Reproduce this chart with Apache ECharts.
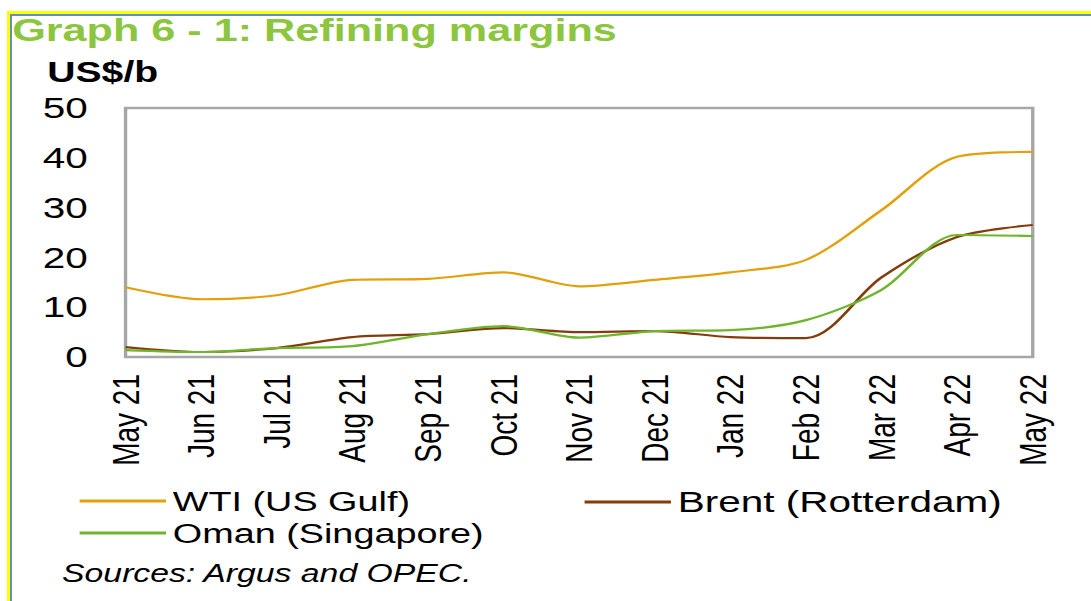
<!DOCTYPE html>
<html>
<head>
<meta charset="utf-8">
<script src="https://cdn.jsdelivr.net/npm/echarts@6/dist/echarts.min.js"></script>
<style>
  html, body { margin: 0; padding: 0; background: #fff; }
  #page { position: relative; width: 1091px; height: 601px; overflow: hidden; }
  /* frame of the source document */
  #frame { position: absolute; left: 7px; top: 11px; right: -10px; bottom: -10px;
           border-left: 3px solid #ffff00; border-top: 3px solid #ffff00; }
  #frame div { position: absolute; left: 0; top: 0; right: 0; bottom: 0;
           border-left: 2px solid #5b8fd0; border-top: 2px solid #5b8fd0; }
  /* the picture is stretched sideways in the source, so the chart is too */
  #chart { position: absolute; left: 0; top: 0; width: 808px; height: 601px;
           transform: scaleX(1.35); transform-origin: 0 0; }
</style>
</head>
<body>
<div id="page">
  <div id="frame"><div></div></div>
  <div id="chart"></div>
</div>
<script>
// 月份
var months = ["May 21", "Jun 21", "Jul 21", "Aug 21", "Sep 21", "Oct 21", "Nov 21",
              "Dec 21", "Jan 22", "Feb 22", "Mar 22", "Apr 22", "May 22"];
// 炼油利润 US$/b
var wti = [14, 11.6, 12.4, 15.5, 15.7, 17, 14.2, 15.5, 17, 19.5, 29.5, 40.2, 41.2];
var brent = [2, 1, 1.8, 4, 4.6, 5.8, 5, 5.2, 4, 3.8, 16, 24.1, 26.5];
var oman = [1.4, 1, 1.8, 2.2, 4.6, 6.2, 3.9, 5.2, 5.4, 7.4, 13.5, 24.5, 24.3];
var yTicks = { min: 0, max: 50, interval: 10 };

var font = "'Liberation Sans', Arial, sans-serif";
var myChart = echarts.init(document.getElementById("chart"), null, { renderer: "svg" });
var option = {
  animation: false,
  textStyle: { fontFamily: font },
  title: {
    text: "Graph 6 - 1: Refining margins",
    left: 9,
    top: 14,
    padding: 0,
    textStyle: { fontFamily: font, fontSize: 32, fontWeight: "bold", color: "#8cc63e" },
  },
  graphic: [
    {
      type: "text",
      left: 35,
      top: 57,
      style: { text: "US$/b", fontFamily: font, fontSize: 29, fontWeight: "bold", fill: "#000" },
    },
    {
      type: "text",
      left: 46,
      top: 561,
      style: { text: "Sources: Argus and OPEC.", fontFamily: font, fontSize: 25, fontStyle: "italic", fill: "#000" },
    },
  ],
  legend: [
    {
      data: ["WTI (US Gulf)", "Oman (Singapore)"],
      orient: "vertical",
      left: 59,
      top: 485,
      padding: 0,
      itemGap: 0,
      icon: "rect",
      itemWidth: 64,
      itemHeight: 3,
      textStyle: { fontFamily: font, fontSize: 28, color: "#000", lineHeight: 32 },
    },
    {
      data: ["Brent (Rotterdam)"],
      orient: "vertical",
      left: 433,
      top: 486,
      padding: 0,
      icon: "rect",
      itemWidth: 64,
      itemHeight: 3,
      textStyle: { fontFamily: font, fontSize: 30, color: "#000", lineHeight: 32 },
    },
  ],
  grid: {
    show: true,
    left: 93,
    right: 43,
    top: 108,
    bottom: 244,
    borderColor: "#a6a6a6",
    borderWidth: 2.5,
    containLabel: false,
  },
  xAxis: {
    type: "category",
    data: months,
    boundaryGap: false,
    axisLine: { show: false },
    axisTick: { show: false },
    splitLine: { show: false },
    axisLabel: { rotate: 90, interval: 0, margin: 17, fontSize: 28, color: "#000", fontFamily: font },
  },
  yAxis: {
    type: "value",
    min: yTicks.min,
    max: yTicks.max,
    interval: yTicks.interval,
    axisLine: { show: false },
    axisTick: { show: false },
    splitLine: { show: false },
    axisLabel: { margin: 28, fontSize: 30, color: "#000", fontFamily: font },
  },
  series: [
    {
      name: "WTI (US Gulf)",
      type: "line",
      data: wti,
      smooth: 0.3,
      symbol: "none",
      color: "#e3a00b",
      lineStyle: { width: 2.2 },
    },
    {
      name: "Brent (Rotterdam)",
      type: "line",
      data: brent,
      smooth: 0.3,
      symbol: "none",
      color: "#843c0c",
      lineStyle: { width: 2.2 },
    },
    {
      name: "Oman (Singapore)",
      type: "line",
      data: oman,
      smooth: 0.3,
      symbol: "none",
      color: "#6fb52b",
      lineStyle: { width: 2.2 },
    },
  ],
};
myChart.setOption(option);
</script>
</body>
</html>
